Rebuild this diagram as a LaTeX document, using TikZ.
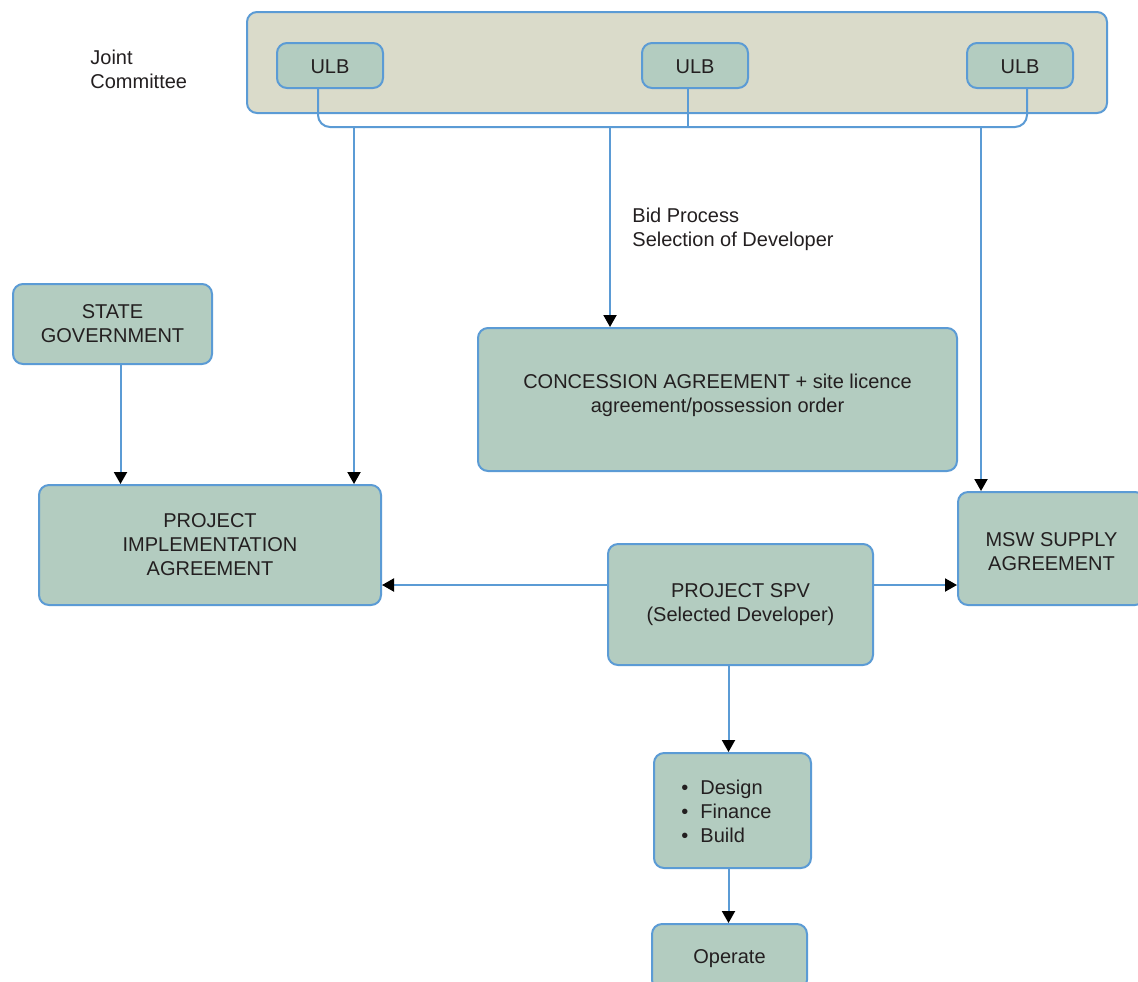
\documentclass[tikz,border=0pt]{standalone}
\usepackage{fontspec}
\setmainfont{Liberation Sans}
\usetikzlibrary{arrows.meta}
\definecolor{boxfill}{HTML}{B3CCC0}
\definecolor{outerfill}{HTML}{DADBCA}
\definecolor{bdr}{HTML}{5B9BD5}
\definecolor{txt}{HTML}{231F20}
\tikzset{
  box/.style={draw=bdr, fill=boxfill, line width=1pt, rounded corners=5pt, align=center,
    text=txt, font=\fontsize{10}{12}\selectfont, inner sep=0pt},
  conn/.style={draw=bdr, line width=1pt},
  arr/.style={conn, -{Triangle[length=6pt,width=6.5pt,fill=black,color=black]}},
  lbl/.style={text=txt, font=\fontsize{10}{12}\selectfont, align=left, inner sep=0pt, anchor=west}
}
\begin{document}
\begin{tikzpicture}[x=0.5pt,y=-0.5pt]
\clip (0,0) rectangle (1138,981);
\fill[white] (0,0) rectangle (1138,981);
% Joint committee container
\node[box, fill=outerfill, minimum width=430pt, minimum height=50.5pt] (jc) at (677,62.5) {};
\node[lbl] (jcl) at (90,69) {Joint\\Committee};
\node[box, minimum width=53pt, minimum height=22.5pt] (u1) at (330,65.5) {\rule{0pt}{8.2pt}ULB};
\node[box, minimum width=53pt, minimum height=22.5pt] (u2) at (695,65.5) {\rule{0pt}{8.2pt}ULB};
\node[box, minimum width=53pt, minimum height=22.5pt] (u3) at (1020,65.5) {\rule{0pt}{8.2pt}ULB};
% bus
\coordinate (bus) at (688,127);
\draw[conn, rounded corners=6pt] ([xshift=-6pt]u1.south) |- (bus) -| ([xshift=3.5pt]u3.south);
\draw[conn] ([xshift=-3.5pt]u2.south) -- (bus);
% boxes
\node[box, minimum width=99.5pt, minimum height=40pt] (sg) at (112.5,324) {STATE\\GOVERNMENT};
\node[box, minimum width=171pt, minimum height=60pt] (pia) at (210,545) {PROJECT\\IMPLEMENTATION\\AGREEMENT};
\node[box, minimum width=239.5pt, minimum height=71.5pt] (ca) at (717.5,399.5) {CONCESSION AGREEMENT + site licence\\agreement/possession order\rule[-6pt]{0pt}{0pt}};
\node[box, minimum width=93.5pt, minimum height=56.5pt] (msw) at (1051.5,548.5) {\rule{0pt}{9.7pt}MSW SUPPLY\\AGREEMENT};
\node[box, minimum width=132.5pt, minimum height=60.5pt] (spv) at (740.5,604.5) {PROJECT SPV\\(Selected Developer)};
\node[box, minimum width=78.5pt, minimum height=57.5pt] (dfb) at (732.5,810.5) {};
\node[lbl] (dfbt) at (681,811) {\textbullet\hspace{6pt}Design\\\textbullet\hspace{6pt}Finance\\\textbullet\hspace{6pt}Build};
\node[box, minimum width=77.5pt, minimum height=33pt] (op) at (729.5,957) {\rule{0pt}{8.2pt}Operate};
% bid label
\node[lbl] (bid) at (632,229.5) {Bid Process\\Selection of Developer};
% drops from bus
\coordinate (d1) at (354,127);
\coordinate (d2) at (610,127);
\coordinate (d3) at (981,127);
\draw[arr] (d1) -- (d1 |- pia.north);
\draw[arr] (d2) -- (d2 |- ca.north);
\draw[arr] (d3) -- (d3 |- msw.north);
% state to PIA
\draw[arr] ([xshift=4pt]sg.south) -- ([xshift=4pt]sg.south |- pia.north);
% SPV connections
\coordinate (sl) at (608,585);
\draw[arr] (spv.west |- sl) -- (pia.east |- sl);
\draw[arr] (spv.east |- sl) -- (msw.west |- sl);
\draw[arr] ([xshift=-6pt]spv.south) -- ([xshift=-6pt]spv.south |- dfb.north);
\draw[arr] ([xshift=-2pt]dfb.south) -- ([xshift=-2pt]dfb.south |- op.north);
\end{tikzpicture}
\end{document}
